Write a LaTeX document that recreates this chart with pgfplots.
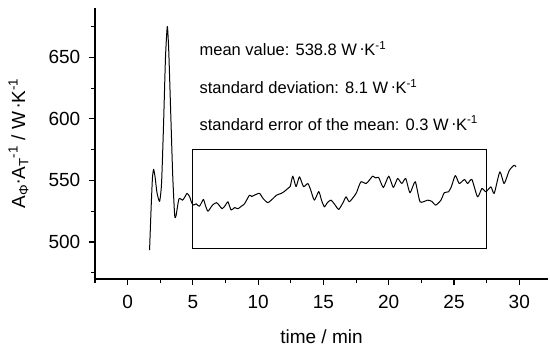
\documentclass[border=0pt]{standalone}
\usepackage{pgfplots}
\pgfplotsset{compat=1.18}
\usepackage{fontspec}
\setmainfont{Liberation Sans}
\newcommand{\rdot}{\raisebox{0.55ex}{.}}
\begin{document}
\fontsize{16.5bp}{19bp}\selectfont
\begin{tikzpicture}
\begin{axis}[
  scale only axis,
  width=453bp, height=271bp,
  xmin=-2.5, xmax=32.2, ymin=470, ymax=690,
  axis x line=bottom, axis y line=left,
  axis line style={-, line width=1.4pt},
  xtick={0,5,...,30}, ytick={500,550,600,650},
  minor xtick={-2.5,2.5,7.5,12.5,17.5,22.5,27.5,32.5},
  minor ytick={475,525,575,625,675},
  tick align=outside,
  major tick length=6bp, minor tick length=4bp,
  tick style={black, line width=1.1pt},
  /pgf/number format/assume math mode=true,
  tick label style={font=\fontsize{19bp}{22bp}\selectfont},
  xticklabel style={yshift=-5bp},
  yticklabel style={xshift=-3bp},
  xlabel={time / min},
  ylabel={A\textsubscript{Φ}\rdot A\textsubscript{T}\textsuperscript{-1} / W\,\rdot K\textsuperscript{-1}},
  label style={font=\fontsize{19bp}{22bp}\selectfont},
  xlabel style={yshift=-9bp},
  ylabel style={yshift=9bp},
  clip=false,
]
\addplot[black, line width=1pt, line join=round, smooth, tension=0.35] coordinates {
(1.68,493.5) (1.8,528) (1.9,552) (1.99,559) (2.1,553) (2.25,540) (2.45,533) (2.6,548) (2.75,595) (2.9,650) (3.04,675) (3.15,655) (3.3,605) (3.45,555) (3.6,522) (3.7,521) (3.93,535) (4.2,534) (4.35,536) (4.55,539.5) (4.74,537) (4.9,532) (5.05,530) (5.25,531) (5.5,529) (5.8,534.6) (5.95,530) (6.15,525) (6.5,530) (6.8,532) (7.0,530) (7.24,527) (7.5,530) (7.68,532.7) (7.93,526) (8.2,528) (8.44,527) (8.7,529) (8.95,531) (9.33,538) (9.5,537) (9.7,538) (10.1,539.5) (10.4,535) (10.74,532) (11.1,535) (11.4,538) (11.76,539.5) (12.0,541) (12.27,543.5) (12.45,545) (12.65,553.5) (12.9,545) (13.16,553) (13.47,545) (13.8,547.5) (14.0,543) (14.3,534) (14.64,541) (14.85,534) (15.07,528.6) (15.3,532) (15.58,534) (15.9,530) (16.17,526.5) (16.5,532) (16.73,536.7) (16.99,532.7) (17.5,539.5) (17.7,545) (17.88,549) (18.26,547.5) (18.5,550) (18.77,553.5) (19.0,552) (19.23,552.4) (19.59,544.3) (20.0,553.5) (20.35,544.3) (20.68,551.6) (21.0,547.5) (21.3,551.6) (21.63,540) (22.03,549) (22.4,532.7) (22.98,534) (23.3,533) (23.6,530) (24.0,534) (24.25,540) (24.58,540.8) (24.8,545) (25.1,554) (25.4,547.5) (25.8,550.8) (26.04,547.5) (26.37,550.8) (26.8,536.7) (27.14,543.5) (27.44,540.8) (27.83,544.8) (28.08,539.5) (28.51,557) (28.84,547.5) (29.23,558) (29.6,562.4) (29.75,561)
};
\draw[black, line width=1.1pt] (axis cs:5,495) rectangle (axis cs:27.5,575);
\node[anchor=base west, inner sep=0pt] at (axis cs:5.5,651.5) {mean value: 538.8 W\,\rdot K\textsuperscript{-1}};
\node[anchor=base west, inner sep=0pt] at (axis cs:5.5,620.7) {standard deviation: 8.1 W\,\rdot K\textsuperscript{-1}};
\node[anchor=base west, inner sep=0pt] at (axis cs:5.5,590.8) {standard error of the mean: 0.3 W\,\rdot K\textsuperscript{-1}};
\end{axis}
\path (current axis.south west) ++(-95bp,-68bp) rectangle ++(550bp,347bp);
\end{tikzpicture}
\end{document}
